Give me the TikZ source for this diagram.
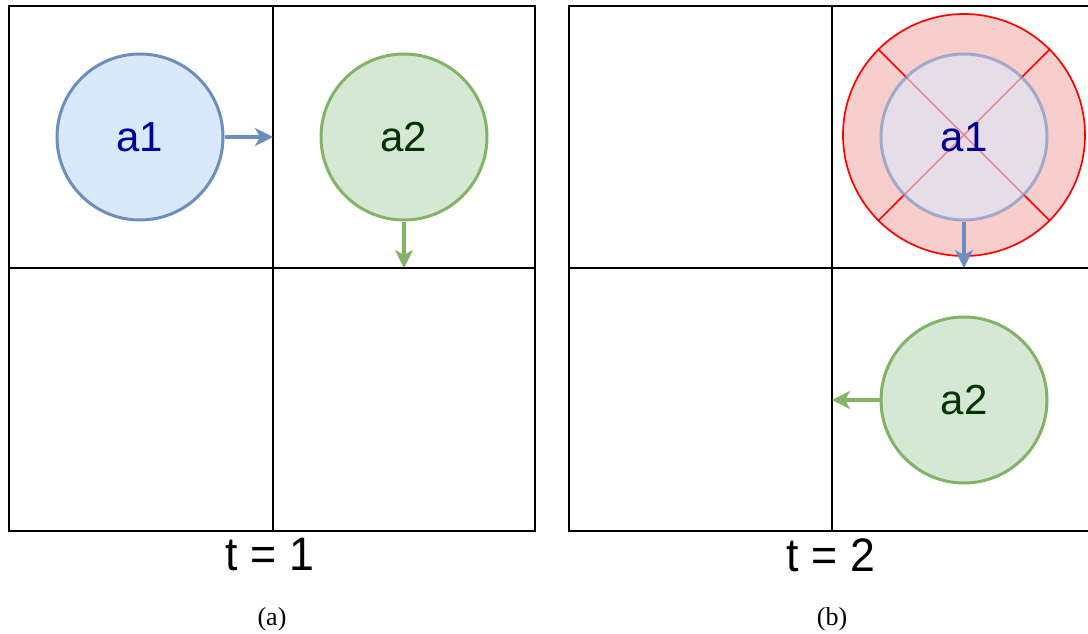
\documentclass[tikz,border=0pt]{standalone}
\usepackage{fontspec}
\setmainfont{Liberation Sans}
\newfontfamily\serifcap{Liberation Serif}
\usetikzlibrary{arrows.meta}
\definecolor{bluefill}{HTML}{DAE8FC}
\definecolor{bluedraw}{HTML}{6C8EBF}
\definecolor{greenfill}{HTML}{D5E8D4}
\definecolor{greendraw}{HTML}{82B366}
\definecolor{redfill}{HTML}{F8CECC}
\definecolor{reddraw}{HTML}{FF0000}
\definecolor{bluetext}{HTML}{000099}
\definecolor{greentext}{HTML}{003300}
\tikzset{
  agent/.style={circle, minimum size=166pt, inner sep=0pt, line width=3pt, font=\fontsize{42}{46}\selectfont},
  ablue/.style={agent, draw=bluedraw, fill=bluefill, text=bluetext},
  agreen/.style={agent, draw=greendraw, fill=greenfill, text=greentext},
  grid/.style={line width=1.7pt, draw=black},
  move/.style={line width=3.5pt, -{Stealth[length=18pt,width=18pt,inset=5pt]}},
  tlabel/.style={font=\fontsize{47}{50}\selectfont, inner sep=0pt, xscale=0.95},
  caplabel/.style={font=\serifcap\fontsize{26}{30}\selectfont, inner sep=0pt},
}
\begin{document}
\begin{tikzpicture}[x=1pt,y=-1pt]
\useasboundingbox (0,0) rectangle (1088,634);
\clip (0,0) rectangle (1088,634);
% left grid
\draw[grid] (9,6) rectangle (535,531);
\draw[grid] (273,6) -- (273,531);
\draw[grid] (9,268) -- (535,268);
% right grid
\draw[grid] (569,6) rectangle (1095,531);
\draw[grid] (832,6) -- (832,531);
\draw[grid] (569,268) -- (1095,268);
% coordinates on grid lines
\coordinate (L1) at (273,137);
\coordinate (L2) at (404,268);
\coordinate (R1) at (964,268);
\coordinate (R2) at (832,400);
% panel (a)
\node[ablue] (a1L) at (140,137) {a1};
\node[agreen] (a2L) at (404,137) {a2};
\draw[move, bluedraw] (a1L.east) -- (L1);
\draw[move, greendraw] (a2L.south) -- (L2);
% panel (b)
\node[circle, minimum size=242pt, inner sep=0pt, draw=reddraw, fill=redfill, line width=1.7pt] (col) at (964,135) {};
\draw[reddraw, line width=1.7pt] (col.north west) -- (col.south east);
\draw[reddraw, line width=1.7pt] (col.north east) -- (col.south west);
\node[agent, draw=bluedraw, fill=bluefill, text=bluetext, fill opacity=0.6, draw opacity=0.6, text opacity=1] (a1R) at (964,137) {a1};
\node[agreen] (a2R) at (964,400) {a2};
\draw[move, bluedraw] (a1R.south) -- (R1);
\draw[move, greendraw] (a2R.west) -- (R2);
% labels
\node[tlabel] (t1) at (270,555) {t = 1};
\node[tlabel] (t2) at (831,555) {t = 2};
\node[caplabel] (ca) at (272,619) {(a)};
\node[caplabel] (cb) at (832,619) {(b)};
\end{tikzpicture}
\end{document}
